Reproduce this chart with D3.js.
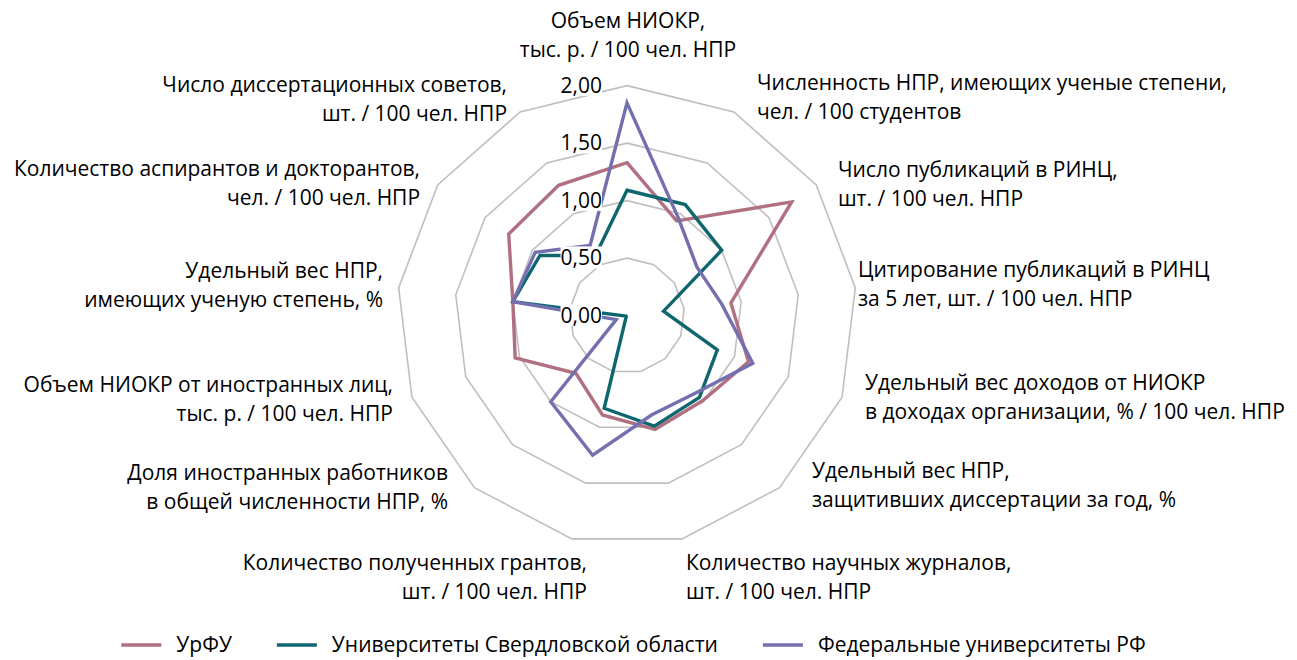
<!DOCTYPE html>
<html>
<head>
<meta charset="utf-8">
<script src="https://cdn.jsdelivr.net/npm/d3@7/dist/d3.min.js"></script>
<style>
  html, body { margin: 0; padding: 0; background: #fff; }
  svg { display: block; }
  text { font-family: "Open Sans", "Noto Sans", sans-serif; fill: #000; }
</style>
</head>
<body>
<svg id="chart" width="1297" height="660"></svg>
<script>
// ---- data ----
const categories = [
  ["Объем НИОКР,", "тыс. р. / 100 чел. НПР"],
  ["Численность НПР, имеющих ученые степени,", "чел. / 100 студентов"],
  ["Число публикаций в РИНЦ,", "шт. / 100 чел. НПР"],
  ["Цитирование публикаций в РИНЦ", "за 5 лет, шт. / 100 чел. НПР"],
  ["Удельный вес доходов от НИОКР", "в доходах организации, % / 100 чел. НПР"],
  ["Удельный вес НПР,", "защитивших диссертации за год, %"],
  ["Количество научных журналов,", "шт. / 100 чел. НПР"],
  ["Количество полученных грантов,", "шт. / 100 чел. НПР"],
  ["Доля иностранных работников", "в общей численности НПР, %"],
  ["Объем НИОКР от иностранных лиц,", "тыс. р. / 100 чел. НПР"],
  ["Удельный вес НПР,", "имеющих ученую степень, %"],
  ["Количество аспирантов и докторантов,", "чел. / 100 чел. НПР"],
  ["Число диссертационных советов,", "шт. / 100 чел. НПР"]
];
const seriesNames = ["УрФУ", "Университеты Свердловской области", "Федеральные университеты РФ"];
const urfu    = [1.33, 0.93, 1.74, 0.91, 1.13, 0.99, 1.02, 0.89, 0.67, 1.04, 1.00, 1.25, 1.28];
const sverdl  = [1.09, 1.09, 1.00, 0.32, 0.84, 0.95, 0.99, 0.83, 0.01, 0.01, 1.00, 0.92, 0.59];
const federal = [1.85, 0.96, 0.74, 0.83, 1.17, 0.90, 0.89, 1.25, 1.00, 0.10, 1.00, 0.97, 0.69];
const tickValues = [0, 0.5, 1.0, 1.5, 2.0];

// ---- layout / style (separate from data) ----
const colors = ["#b0707f", "#0e666f", "#7470b0"];
const cx = 627, cy = 315.6, maxR = 230;
const labelR = 250;
const fontSize = "21px";
// small nudges for category label placement [dx, dy of first baseline]
const labelNudge = [
  [1, -37.6], [13.8, -4.2], [5.2, 3.4], [-17.2, -8.5], [4.2, -14.3], [19.2, -24.7],
  [-0.8, 11.7], [19.8, 11.7], [-13.2, -22.7], [-0.3, -12.3], [4.2, -7.5], [-1.2, 2.9], [-3.8, -2.2]
];
const lineH = 29;

const svg = d3.select("#chart");
const n = categories.length;
const angle = i => i * 2 * Math.PI / n;
const r = d3.scaleLinear().domain([0, 2]).range([0, maxR]);
const locale = d3.formatLocale({decimal: ",", thousands: " ", grouping: [3], currency: ["", ""]});
const fmt = locale.format(".2f");

const g = svg.append("g").attr("transform", `translate(${cx},${cy})`);

// grid rings
const ringLine = d3.lineRadial()
  .angle((d, i) => angle(i))
  .radius(d => r(d))
  .curve(d3.curveLinearClosed);

g.append("g").selectAll("path")
  .data(tickValues.filter(t => t > 0))
  .join("path")
  .attr("d", t => ringLine(d3.range(n).map(() => t)))
  .attr("fill", "none")
  .attr("stroke", "#bfbfbf")
  .attr("stroke-width", 1.6);

// series
const series = [urfu, sverdl, federal];
g.append("g").selectAll("path")
  .data(series)
  .join("path")
  .attr("d", d => ringLine(d))
  .attr("fill", "none")
  .attr("stroke", (d, i) => colors[i])
  .attr("stroke-width", 3.4)
  .attr("stroke-linejoin", "miter");

// tick labels with white background
const tg = g.append("g");
tickValues.forEach(t => {
  const tx = tg.append("text")
    .attr("x", -25)
    .attr("y", -r(t))
    .attr("dy", "0.35em")
    .attr("text-anchor", "end")
    .style("font-size", fontSize)
    .text(fmt(t));
  const bb = tx.node().getBBox();
  tg.insert("rect", "text")
    .attr("x", bb.x)
    .attr("y", bb.y + 3)
    .attr("width", bb.width)
    .attr("height", bb.height - 6)
    .attr("fill", "#fff");
});

// category labels
const lg = svg.append("g");
categories.forEach((lines, i) => {
  const a = angle(i);
  const s = Math.sin(a), c = Math.cos(a);
  const ax = cx + labelR * s + labelNudge[i][0];
  const ay = cy - labelR * c + labelNudge[i][1];
  const anchor = Math.abs(s) < 0.1 ? "middle" : (s > 0 ? "start" : "end");
  const t = lg.append("text")
    .attr("text-anchor", anchor)
    .style("font-size", fontSize);
  lines.forEach((ln, k) => {
    t.append("tspan").attr("x", ax).attr("y", ay + k * lineH).text(ln);
  });
});

// legend
const leg = svg.append("g");
const legY = 645;
const items = seriesNames.map((name, i) => {
  const it = leg.append("g");
  it.append("line").attr("x1", 0).attr("x2", 40).attr("y1", 0).attr("y2", 0)
    .attr("stroke", colors[i]).attr("stroke-width", 3.5);
  const tx = it.append("text").attr("x", 55).attr("y", 0).attr("dy", "0.35em")
    .style("font-size", fontSize).text(name);
  const w = 55 + tx.node().getComputedTextLength();
  return {it, w};
});
const gap = 45;
const total = d3.sum(items, d => d.w) + gap * (items.length - 1);
let x = 633.5 - total / 2;
items.forEach(d => {
  d.it.attr("transform", `translate(${x},${legY})`);
  x += d.w + gap;
});
</script>
</body>
</html>
